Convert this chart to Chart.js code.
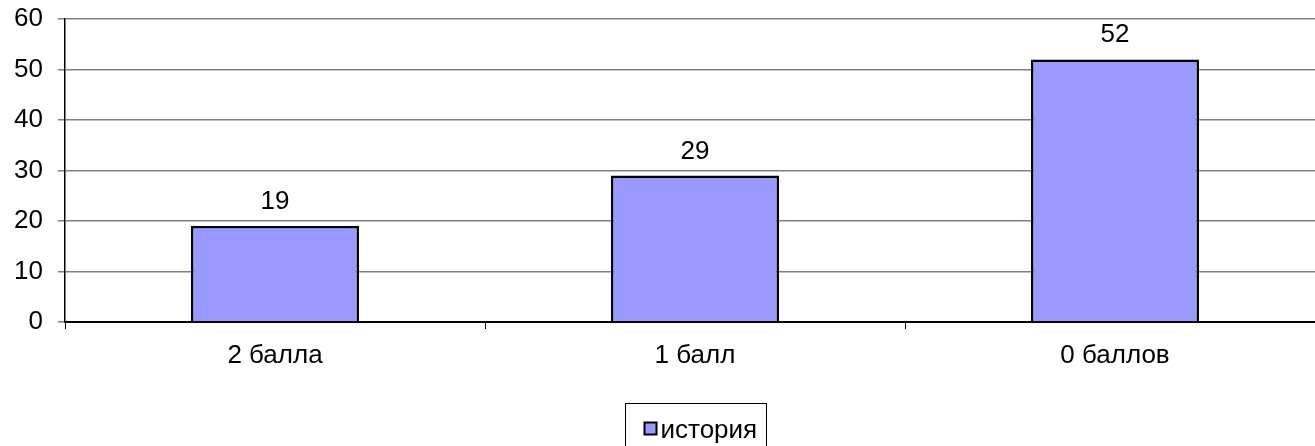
<!DOCTYPE html>
<html>
<head>
<meta charset="utf-8">
<script src="https://cdn.jsdelivr.net/npm/chart.js@4/dist/chart.umd.min.js"></script>
<style>
    html, body { margin: 0; padding: 0; background: #fff; overflow: hidden; }
    #wrap { width: 1325px; height: 446px; }
</style>
</head>
<body>
<div id="wrap"><canvas id="chart" width="1325" height="446"></canvas></div>
<script>
const categories = ['2 балла', '1 балл', '0 баллов'];
const seriesName = 'история';
const values = [19, 29, 52];
const yTicks = [0, 10, 20, 30, 40, 50, 60];

const FONT = '"Liberation Sans", Arial, sans-serif';
const FSIZE = 26;

// value labels above bars + legend box
const extras = {
    id: 'extras',
    afterDatasetsDraw(chart) {
        const ctx = chart.ctx;
        const meta = chart.getDatasetMeta(0);
        ctx.save();
        ctx.font = FSIZE + 'px ' + FONT;
        ctx.fillStyle = '#000';
        ctx.textAlign = 'center';
        ctx.textBaseline = 'alphabetic';
        meta.data.forEach((bar, i) => {
            ctx.fillText(String(values[i]), bar.x, bar.y - 17);
        });

        // legend
        const area = chart.chartArea;
        const cx = (area.left + area.right) / 2;
        const w = 141, h = 46;
        const x0 = Math.round(cx - w / 2) + 0.5, y0 = 403.5;
        ctx.strokeStyle = '#000';
        ctx.lineWidth = 1;
        ctx.strokeRect(x0, y0, w, h);
        ctx.fillStyle = '#9999FF';
        ctx.fillRect(x0 + 19, y0 + 19, 12, 12);
        ctx.lineWidth = 2;
        ctx.strokeRect(x0 + 19, y0 + 19, 12, 12);
        ctx.fillStyle = '#000';
        ctx.textAlign = 'left';
        ctx.textBaseline = 'alphabetic';
        ctx.fillText(seriesName, x0 + 35, y0 + 34);
        ctx.restore();
    }
};

new Chart(document.getElementById('chart'), {
    type: 'bar',
    data: {
        labels: categories,
        datasets: [{
            label: seriesName,
            data: values,
            backgroundColor: '#9999FF',
            borderColor: '#000',
            borderWidth: 2.5,
            categoryPercentage: 1,
            barPercentage: 0.4
        }]
    },
    options: {
        responsive: false,
        animation: false,
        layout: { padding: { top: 19, right: 0, bottom: 0, left: 0 } },
        plugins: { legend: { display: false }, tooltip: { enabled: false } },
        scales: {
            x: {
                grid: {
                    offset: true,
                    drawOnChartArea: false,
                    drawTicks: true,
                    tickLength: 7,
                    color: '#000'
                },
                border: { color: '#000', width: 2 },
                ticks: { color: '#000', font: { family: FONT, size: FSIZE }, padding: 11 },
                afterFit(scale) {
                    scale.height = 124;
                    scale.paddingLeft = 0;
                    scale.paddingRight = 0;
                }
            },
            y: {
                min: 0,
                max: 60,
                afterBuildTicks(scale) { scale.ticks = yTicks.map(v => ({ value: v })); },
                grid: { color: '#808080', lineWidth: 1.5, tickLength: 7 },
                border: { color: '#000', width: 1.5 },
                ticks: { color: '#000', font: { family: FONT, size: FSIZE }, padding: 15 },
                afterFit(scale) {
                    scale.width = 65;
                    scale.paddingTop = 0;
                    scale.paddingBottom = 0;
                }
            }
        }
    },
    plugins: [extras]
});
</script>
</body>
</html>
